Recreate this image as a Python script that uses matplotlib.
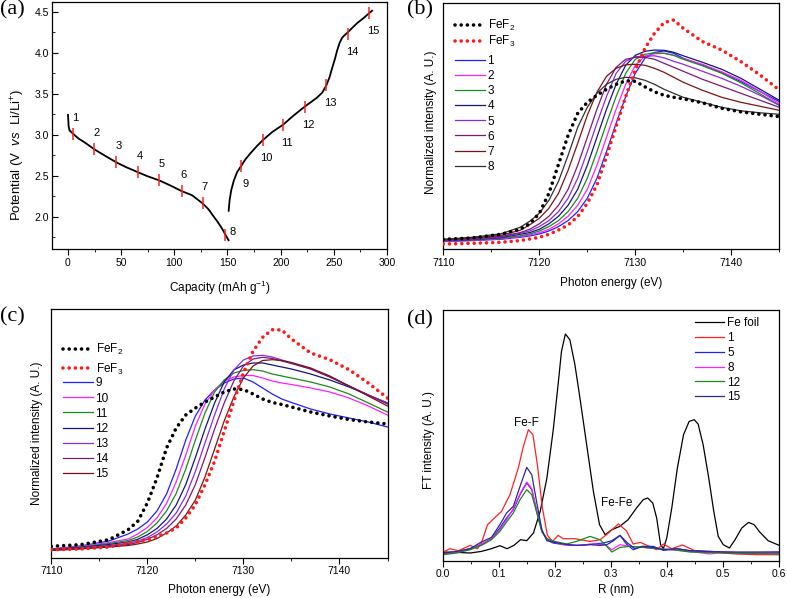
import matplotlib
matplotlib.use("Agg")
import matplotlib.pyplot as plt
from matplotlib.ticker import MultipleLocator, FormatStrFormatter

plt.rcParams['font.family'] = ['Liberation Sans', 'DejaVu Sans']
plt.rcParams['mathtext.fontset'] = 'custom'
plt.rcParams['mathtext.rm'] = 'Liberation Sans'
plt.rcParams['mathtext.it'] = 'Liberation Sans:italic'
plt.rcParams['axes.linewidth'] = 0.9

# ---------------- (a) charge / discharge curve ----------------
dis_cap = [0, 0.6, 1.5, 4.7, 10, 15, 24.7, 35, 45.5, 55, 65.8, 75, 85.9, 96, 106.9,
           116.6, 126.6, 132, 137, 141, 145, 148, 151]
dis_v = [3.24, 3.10, 3.05, 3.01, 2.95, 2.91, 2.82, 2.74, 2.66, 2.60, 2.54, 2.49, 2.44,
         2.38, 2.31, 2.26, 2.16, 2.09, 2.00, 1.93, 1.85, 1.78, 1.71]
chg_cap = [151.1, 152, 153.5, 156, 159, 163, 167, 171.5, 177, 183.1, 192, 202.3, 212,
           222.6, 229, 234.2, 239, 243, 246, 248.4, 251, 253, 255.5, 257.8, 260, 263.4,
           268, 272, 278, 283.2, 286]
chg_v = [2.07, 2.20, 2.32, 2.44, 2.54, 2.62, 2.70, 2.77, 2.85, 2.93, 3.03, 3.12, 3.23,
         3.34, 3.40, 3.45, 3.51, 3.60, 3.70, 3.81, 3.92, 4.02, 4.12, 4.18, 4.21, 4.25,
         4.31, 4.36, 4.42, 4.48, 4.51]
mark_cap = [4.7, 24.7, 45.5, 65.8, 85.9, 106.9, 126.6, 148, 163, 183.1, 202.3, 222.6,
            243, 263.4, 283.2]
mark_v = [3.01, 2.82, 2.66, 2.54, 2.44, 2.31, 2.16, 1.78, 2.62, 2.93, 3.12, 3.34, 3.60,
          4.23, 4.48]
mark_lab = [str(i) for i in range(1, 16)]

# ---------------- (b), (c) XANES ----------------
energy = [7110, 7113, 7116, 7118, 7119, 7120, 7121, 7122, 7123, 7124, 7125, 7126, 7127,
          7128, 7129, 7130, 7131, 7132, 7133, 7134, 7135, 7137, 7139, 7141, 7143, 7145]

b_fef2 = [0.100, 0.113, 0.150, 0.200, 0.255, 0.36, 0.56, 0.85, 1.14, 1.36, 1.47, 1.54, 1.60,
          1.65, 1.685, 1.68, 1.625, 1.575, 1.54, 1.52, 1.505, 1.465, 1.41, 1.375, 1.35, 1.327]
b_fef3 = [0.053, 0.060, 0.070, 0.087, 0.103, 0.120, 0.150, 0.193, 0.243, 0.327, 0.460, 0.643,
          0.927, 1.227, 1.527, 1.793, 2.010, 2.160, 2.267, 2.293, 2.210, 2.077, 1.993, 1.877,
          1.743, 1.593]
b1 = [0.077, 0.087, 0.100, 0.120, 0.133, 0.153, 0.183, 0.227, 0.287, 0.377, 0.510, 0.710, 0.977,
      1.260, 1.527, 1.760, 1.910, 1.970, 1.983, 1.960, 1.910, 1.843, 1.767, 1.677, 1.577, 1.477]
b2 = [0.080, 0.090, 0.105, 0.127, 0.143, 0.167, 0.200, 0.255, 0.330, 0.440, 0.600, 0.840, 1.120,
      1.400, 1.650, 1.840, 1.930, 1.955, 1.960, 1.940, 1.905, 1.850, 1.775, 1.690, 1.580, 1.455]
b3 = [0.083, 0.093, 0.110, 0.135, 0.153, 0.183, 0.227, 0.287, 0.377, 0.510, 0.710, 0.977, 1.260,
      1.527, 1.760, 1.900, 1.950, 1.965, 1.960, 1.940, 1.900, 1.835, 1.760, 1.665, 1.555, 1.440]
b4 = [0.087, 0.097, 0.117, 0.150, 0.167, 0.200, 0.255, 0.330, 0.440, 0.600, 0.840, 1.120, 1.400,
      1.650, 1.840, 1.940, 1.980, 1.993, 1.990, 1.970, 1.935, 1.870, 1.800, 1.710, 1.600, 1.490]
b5 = [0.090, 0.100, 0.123, 0.160, 0.183, 0.227, 0.287, 0.377, 0.510, 0.710, 0.977, 1.260, 1.527,
      1.760, 1.880, 1.925, 1.930, 1.935, 1.915, 1.880, 1.850, 1.780, 1.710, 1.630, 1.540, 1.440]
b6 = [0.093, 0.107, 0.130, 0.167, 0.200, 0.255, 0.330, 0.440, 0.600, 0.840, 1.120, 1.400, 1.650,
      1.820, 1.900, 1.920, 1.920, 1.900, 1.860, 1.820, 1.780, 1.700, 1.630, 1.560, 1.490, 1.420]
b7 = [0.097, 0.113, 0.140, 0.190, 0.245, 0.310, 0.410, 0.560, 0.790, 1.060, 1.340, 1.570, 1.730,
      1.810, 1.845, 1.850, 1.840, 1.810, 1.770, 1.720, 1.670, 1.590, 1.520, 1.470, 1.430, 1.390]
b8 = [0.100, 0.120, 0.155, 0.220, 0.280, 0.360, 0.490, 0.680, 0.940, 1.220, 1.420, 1.560, 1.650,
      1.700, 1.720, 1.715, 1.690, 1.650, 1.600, 1.560, 1.520, 1.470, 1.420, 1.385, 1.365, 1.350]

c_fef2 = [0.117, 0.133, 0.183, 0.283, 0.367, 0.55, 0.80, 1.10, 1.30, 1.43, 1.50, 1.56, 1.61,
          1.66, 1.69, 1.685, 1.64, 1.59, 1.555, 1.535, 1.51, 1.46, 1.42, 1.385, 1.36, 1.34]
c_fef3 = [0.083, 0.090, 0.110, 0.150, 0.165, 0.183, 0.215, 0.250, 0.300, 0.400, 0.533, 0.733,
          0.967, 1.267, 1.567, 1.850, 2.067, 2.207, 2.283, 2.280, 2.190, 2.050, 1.983, 1.883,
          1.750, 1.600]
c9 = [0.090, 0.120, 0.170, 0.240, 0.290, 0.360, 0.470, 0.640, 0.890, 1.180, 1.420, 1.580, 1.680,
      1.750, 1.790, 1.800, 1.760, 1.700, 1.640, 1.590, 1.555, 1.490, 1.440, 1.400, 1.360, 1.310]
c10 = [0.090, 0.115, 0.155, 0.190, 0.240, 0.305, 0.400, 0.545, 0.760, 1.030, 1.320, 1.540, 1.680,
       1.770, 1.810, 1.825, 1.825, 1.800, 1.770, 1.750, 1.735, 1.700, 1.660, 1.600, 1.520, 1.430]
c11 = [0.085, 0.110, 0.145, 0.175, 0.210, 0.265, 0.350, 0.470, 0.645, 0.890, 1.180, 1.450, 1.660,
       1.780, 1.850, 1.875, 1.883, 1.870, 1.840, 1.820, 1.800, 1.760, 1.710, 1.640, 1.550, 1.460]
c12 = [0.085, 0.105, 0.135, 0.160, 0.187, 0.232, 0.295, 0.390, 0.530, 0.735, 1.005, 1.290, 1.550,
       1.760, 1.880, 1.930, 1.950, 1.950, 1.930, 1.910, 1.890, 1.840, 1.780, 1.710, 1.630, 1.550]
c13 = [0.080, 0.100, 0.125, 0.145, 0.170, 0.205, 0.260, 0.340, 0.450, 0.620, 0.865, 1.150, 1.430,
       1.690, 1.880, 1.980, 2.020, 2.027, 2.010, 1.980, 1.950, 1.890, 1.810, 1.720, 1.630, 1.550]
c14 = [0.080, 0.095, 0.120, 0.135, 0.155, 0.187, 0.232, 0.295, 0.390, 0.530, 0.735, 1.005, 1.290,
       1.550, 1.770, 1.920, 1.990, 2.007, 1.995, 1.970, 1.945, 1.890, 1.810, 1.720, 1.630, 1.540]
c15 = [0.075, 0.090, 0.110, 0.125, 0.140, 0.160, 0.195, 0.250, 0.320, 0.430, 0.580, 0.810, 1.090,
       1.370, 1.610, 1.800, 1.920, 1.975, 1.983, 1.975, 1.955, 1.900, 1.820, 1.720, 1.620, 1.520]

b_series = [b1, b2, b3, b4, b5, b6, b7, b8]
b_labels = ['1', '2', '3', '4', '5', '6', '7', '8']
c_series = [c9, c10, c11, c12, c13, c14, c15]
c_labels = ['9', '10', '11', '12', '13', '14', '15']
b_colors = ['#1f1fff', '#ff1fff', '#1a8a1a', '#14147a', '#8a2be2', '#7a1a7a', '#7a1414', '#303030']
c_colors = ['#1f1fff', '#ff1fff', '#1a8a1a', '#14147a', '#8a2be2', '#7a1a7a', '#7a1414']

# ---------------- (d) FT-EXAFS ----------------
foil_r = [0.000, 0.024, 0.048, 0.068, 0.086, 0.101, 0.114, 0.126, 0.138, 0.149, 0.161, 0.173,
          0.185, 0.196, 0.205, 0.211, 0.218, 0.226, 0.235, 0.244, 0.256, 0.268, 0.279, 0.289,
          0.301, 0.315, 0.330, 0.345, 0.357, 0.365, 0.374, 0.381, 0.388, 0.393, 0.399, 0.408,
          0.418, 0.429, 0.439, 0.448, 0.455, 0.464, 0.474, 0.483, 0.491, 0.500, 0.511, 0.521,
          0.533, 0.545, 0.555, 0.565, 0.580, 0.600]
foil_i = [0.087, 0.083, 0.077, 0.093, 0.120, 0.150, 0.120, 0.153, 0.210, 0.200, 0.277, 0.493,
          0.827, 1.293, 1.760, 2.093, 2.267, 2.210, 1.960, 1.627, 1.160, 0.693, 0.360, 0.260,
          0.310, 0.343, 0.410, 0.527, 0.610, 0.627, 0.577, 0.427, 0.160, 0.120, 0.227, 0.527,
          0.927, 1.260, 1.393, 1.410, 1.367, 1.160, 0.827, 0.493, 0.243, 0.160, 0.127, 0.210,
          0.327, 0.383, 0.360, 0.287, 0.200, 0.153]
s1_r = [0.000, 0.012, 0.027, 0.048, 0.061, 0.068, 0.079, 0.090, 0.104, 0.119, 0.134, 0.143,
        0.152, 0.160, 0.168, 0.177, 0.186, 0.195, 0.205, 0.214, 0.235, 0.262, 0.280, 0.295,
        0.3125, 0.327, 0.339, 0.352, 0.364, 0.381, 0.393, 0.408, 0.427, 0.449, 0.476, 0.524,
        0.560, 0.600]
s1_i = [0.087, 0.120, 0.100, 0.153, 0.120, 0.177, 0.360, 0.420, 0.493, 0.660, 0.927, 1.143,
        1.310, 1.260, 0.960, 0.527, 0.253, 0.193, 0.253, 0.220, 0.220, 0.193, 0.210, 0.277,
        0.367, 0.300, 0.167, 0.183, 0.153, 0.110, 0.167, 0.120, 0.157, 0.100, 0.087, 0.067,
        0.060, 0.060]
s5_r = [0.000, 0.024, 0.048, 0.068, 0.086, 0.101, 0.113, 0.125, 0.137, 0.149, 0.158, 0.167,
        0.176, 0.185, 0.196, 0.208, 0.226, 0.244, 0.268, 0.286, 0.301, 0.3155, 0.327, 0.339,
        0.354, 0.375, 0.393, 0.417, 0.440, 0.476, 0.500, 0.536, 0.600]
s5_i = [0.067, 0.087, 0.120, 0.160, 0.220, 0.327, 0.427, 0.510, 0.660, 0.777, 0.710, 0.493,
        0.293, 0.210, 0.177, 0.167, 0.153, 0.153, 0.167, 0.177, 0.200, 0.253, 0.167, 0.110,
        0.143, 0.143, 0.103, 0.120, 0.100, 0.093, 0.087, 0.077, 0.077]
s8_r = [0.000, 0.024, 0.048, 0.068, 0.086, 0.101, 0.113, 0.125, 0.137, 0.149, 0.158, 0.167,
        0.176, 0.185, 0.196, 0.214, 0.238, 0.268, 0.289, 0.301, 0.3155, 0.333, 0.357, 0.381,
        0.405, 0.440, 0.476, 0.500, 0.536, 0.600]
s8_i = [0.067, 0.087, 0.120, 0.167, 0.220, 0.310, 0.410, 0.520, 0.667, 0.787, 0.720, 0.493,
        0.293, 0.220, 0.187, 0.160, 0.153, 0.167, 0.160, 0.110, 0.160, 0.143, 0.133, 0.120,
        0.110, 0.093, 0.067, 0.087, 0.077, 0.087]
s12_r = [0.000, 0.024, 0.048, 0.068, 0.086, 0.101, 0.113, 0.125, 0.137, 0.149, 0.158, 0.167,
         0.176, 0.185, 0.199, 0.220, 0.238, 0.262, 0.280, 0.292, 0.301, 0.3155, 0.333, 0.357,
         0.381, 0.411, 0.440, 0.500, 0.600]
s12_i = [0.060, 0.077, 0.110, 0.153, 0.210, 0.293, 0.387, 0.477, 0.610, 0.710, 0.660, 0.477,
         0.293, 0.220, 0.193, 0.167, 0.193, 0.243, 0.210, 0.143, 0.087, 0.133, 0.143, 0.133,
         0.120, 0.110, 0.087, 0.077, 0.067]
s15_r = [0.000, 0.024, 0.048, 0.068, 0.086, 0.101, 0.113, 0.125, 0.137, 0.149, 0.158, 0.167,
         0.176, 0.185, 0.196, 0.214, 0.238, 0.262, 0.280, 0.292, 0.304, 0.3155, 0.329, 0.342,
         0.357, 0.375, 0.393, 0.417, 0.440, 0.500, 0.600]
s15_i = [0.077, 0.093, 0.120, 0.187, 0.233, 0.360, 0.477, 0.543, 0.743, 0.933, 0.860, 0.577,
         0.310, 0.200, 0.187, 0.167, 0.153, 0.160, 0.153, 0.160, 0.200, 0.253, 0.177, 0.120,
         0.143, 0.133, 0.110, 0.120, 0.100, 0.087, 0.087]
d_series = [(s1_r, s1_i, '1', '#ff2020'), (s5_r, s5_i, '5', '#1f1fff'),
            (s8_r, s8_i, '8', '#ff1fff'), (s12_r, s12_i, '12', '#1a8a1a'),
            (s15_r, s15_i, '15', '#2a2a8a')]

W, H = 787, 598
fig = plt.figure(figsize=(W / 100, H / 100), dpi=100)


def box(l, t, r, b):
    return [l / W, 1 - b / H, (r - l) / W, (b - t) / H]


ax_a = fig.add_axes(box(51.5, 1.7, 387, 249.3))
ax_b = fig.add_axes(box(443.3, 2.7, 779.3, 249.3))
ax_c = fig.add_axes(box(51.3, 309.3, 387.5, 558))
ax_d = fig.add_axes(box(443.3, 309.7, 779.3, 560.7))

TICK = 7.5
LAB = 8.5
LEG = 8.5
dot = dict(lw=2.6, ls=(0, (0.01, 1.7)), dash_capstyle='round')
legkw = dict(loc='upper left', frameon=False, fontsize=LEG, borderpad=0, borderaxespad=0,
             handlelength=2.5, handletextpad=0.25)

# (a)
ax_a.plot(dis_cap, dis_v, color='black', lw=1.3)
ax_a.plot(chg_cap, chg_v, color='black', lw=1.3)
ax_a.plot(mark_cap, mark_v, ls='none', marker='|', ms=9, mew=1.1, color='#ff2020')
for i, (cx, cy, lab) in enumerate(zip(mark_cap, mark_v, mark_lab)):
    if i < 7:
        off = (2, 16)
    elif i == 7:
        off = (7, 3)
    else:
        off = (4, -18)
    ax_a.annotate(lab, (cx, cy), xytext=off, textcoords='offset pixels',
                  ha='center', va='center', fontsize=8)
ax_a.set_xlim(-15.5, 300)
ax_a.set_ylim(1.6, 4.62)
ax_a.xaxis.set_major_locator(MultipleLocator(50))
ax_a.xaxis.set_minor_locator(MultipleLocator(25))
ax_a.yaxis.set_major_locator(MultipleLocator(0.5))
ax_a.yaxis.set_minor_locator(MultipleLocator(0.25))
ax_a.yaxis.set_major_formatter(FormatStrFormatter('%.1f'))
ax_a.tick_params(axis='x', which='both', direction='out', labelsize=TICK, pad=2)
ax_a.tick_params(axis='x', which='major', length=4)
ax_a.tick_params(axis='x', which='minor', length=2.5)
ax_a.tick_params(axis='y', which='both', direction='in', labelsize=TICK, pad=2)
ax_a.tick_params(axis='y', which='major', length=4)
ax_a.tick_params(axis='y', which='minor', length=2.5)
ax_a.set_xlabel('Capacity (mAh g$^{-1}$)', fontsize=LAB)
ax_a.set_ylabel(r'Potential (V  $\it{vs}$  Li/Li$^{+}$)', fontsize=9.5)
ax_a.xaxis.set_label_coords(0.502, -0.12)
ax_a.yaxis.set_label_coords(-0.074, 0.38)


def xanes(ax, fef2, fef3, series, labels, colors, ylim, ref_top, ref_space, num_top):
    r1, = ax.plot(energy, fef2, color='black', label='FeF$_2$', zorder=3, **dot)
    r2, = ax.plot(energy, fef3, color='#ff1a1a', label='FeF$_3$', zorder=3, **dot)
    hs = []
    for ys, lab, col in zip(series, labels, colors):
        h, = ax.plot(energy, ys, color=col, lw=0.9, label=lab)
        hs.append(h)
    ax.set_xlim(7110, 7145)
    ax.set_ylim(*ylim)
    ax.xaxis.set_major_locator(MultipleLocator(10))
    ax.xaxis.set_minor_locator(MultipleLocator(5))
    ax.set_yticks([])
    ax.tick_params(axis='x', which='both', direction='out', labelsize=TICK, pad=2)
    ax.tick_params(axis='x', which='major', length=4)
    ax.tick_params(axis='x', which='minor', length=2.5)
    ax.set_xlabel('Photon energy (eV)', fontsize=LAB)
    ax.set_ylabel('Normalized intensity (A. U.)', fontsize=LAB)
    leg1 = ax.legend(handles=[r1, r2], bbox_to_anchor=(0.035, ref_top),
                     labelspacing=ref_space, **legkw)
    ax.add_artist(leg1)
    ax.legend(handles=hs, bbox_to_anchor=(0.035, num_top), labelspacing=0.26, **legkw)


xanes(ax_b, b_fef2, b_fef3, b_series, b_labels, b_colors, (0, 2.466), 0.937, 0.06, 0.787)
ax_b.xaxis.set_label_coords(0.501, -0.112)
ax_b.yaxis.set_label_coords(-0.02, 0.516)
xanes(ax_c, c_fef2, c_fef3, c_series, c_labels, c_colors, (0, 2.487), 0.867, 0.34, 0.726)
ax_c.xaxis.set_label_coords(0.5, -0.103)
ax_c.yaxis.set_label_coords(-0.024, 0.5)

# (d)
ax_d.plot(foil_r, foil_i, color='black', lw=0.9, label='Fe foil')
for rr, ii, lab, col in d_series:
    ax_d.plot(rr, ii, color=col, lw=0.9, label=lab)
ax_d.set_xlim(0, 0.6)
ax_d.set_ylim(0, 2.51)
ax_d.xaxis.set_major_locator(MultipleLocator(0.1))
ax_d.xaxis.set_minor_locator(MultipleLocator(0.05))
ax_d.xaxis.set_major_formatter(FormatStrFormatter('%.1f'))
ax_d.set_yticks([])
ax_d.tick_params(axis='x', which='both', direction='out', labelsize=TICK, pad=2)
ax_d.tick_params(axis='x', which='major', length=4)
ax_d.tick_params(axis='x', which='minor', length=2.5)
ax_d.set_xlabel('R (nm)', fontsize=LAB)
ax_d.set_ylabel('FT intensity (A. U.)', fontsize=LAB)
ax_d.xaxis.set_label_coords(0.513, -0.092)
ax_d.yaxis.set_label_coords(-0.025, 0.482)
ax_d.text(0.149, 1.377, 'Fe-F', ha='center', va='center', fontsize=LAB)
ax_d.text(0.3095, 0.577, 'Fe-Fe', ha='center', va='center', fontsize=LAB)
ax_d.legend(bbox_to_anchor=(0.749, 0.970), labelspacing=0.24, **legkw)

for lab, x, y in [('(a)', 0, 0), ('(b)', 407, 0), ('(c)', 0, 307), ('(d)', 407, 310)]:
    fig.text(x / W, 1 - y / H, lab, family='Liberation Serif', fontsize=16,
             ha='left', va='top')

fig.savefig('out.png', dpi=100)
